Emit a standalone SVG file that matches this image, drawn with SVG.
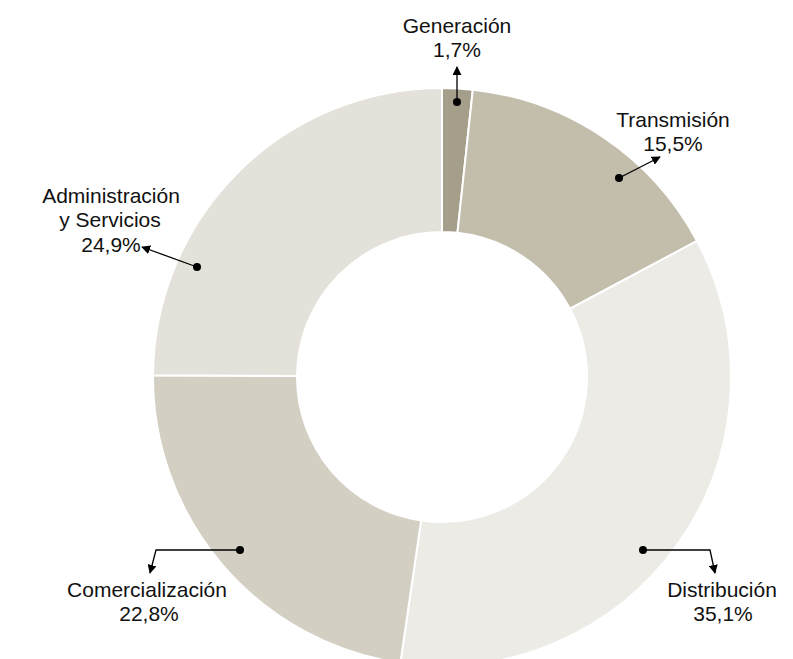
<svg xmlns="http://www.w3.org/2000/svg" width="793" height="659" viewBox="0 0 793 659">
<style>
.seg{stroke:#ffffff;stroke-width:2;stroke-linejoin:miter}
.lbl{font-family:"Liberation Sans",Arial,sans-serif;font-size:21px;fill:#111111;text-anchor:middle}
.lead{fill:none;stroke:#000;stroke-width:1.3}
.dot{fill:#000}
</style>
<defs>
<marker id="arr" viewBox="0 0 10 10" refX="9" refY="5" markerWidth="9" markerHeight="9" markerUnits="userSpaceOnUse" orient="auto">
<path d="M0,0 L10,5 L0,10 z" fill="#000"/>
</marker>
</defs>
<rect width="793" height="659" fill="#ffffff"/>
<g id="donut">
<g id="seg-generacion"><path class="seg" fill="#a59e8a" d="M442,88 A289,289 0 0 1 472.81,89.65 L457.46,232.83 A145,145 0 0 0 442,232 Z"/></g>
<g id="seg-transmision"><path class="seg" fill="#c3bdac" d="M472.81,89.65 A289,289 0 0 1 697,240.98 L569.94,308.76 A145,145 0 0 0 457.46,232.83 Z"/></g>
<g id="seg-distribucion"><path class="seg" fill="#ecebe6" d="M697,240.98 A289,289 0 0 1 400.38,662.99 L421.12,520.49 A145,145 0 0 0 569.94,308.76 Z"/></g>
<g id="seg-comercializacion"><path class="seg" fill="#d3cfc3" d="M400.38,662.99 A289,289 0 0 1 153.01,375.18 L297,376.09 A145,145 0 0 0 421.12,520.49 Z"/></g>
<g id="seg-administracion"><path class="seg" fill="#e4e1da" d="M153.01,375.18 A289,289 0 0 1 442,88 L442,232 A145,145 0 0 0 297,376.09 Z"/></g>
</g>
<g id="connectors">
<path class="lead" d="M457,102 L457,67" marker-end="url(#arr)"/>
<path class="lead" d="M619,178 L660,157" marker-end="url(#arr)"/>
<path class="lead" d="M197,267 L142,247" marker-end="url(#arr)"/>
<path class="lead" d="M240,550 L156,550 L150,573" marker-end="url(#arr)"/>
<path class="lead" d="M643,550 L710,550 L715,573" marker-end="url(#arr)"/>
<circle class="dot" cx="457" cy="102" r="4"/>
<circle class="dot" cx="619" cy="178" r="4"/>
<circle class="dot" cx="197" cy="267" r="4"/>
<circle class="dot" cx="240" cy="550" r="4"/>
<circle class="dot" cx="643" cy="550" r="4"/>
</g>
<g id="label-generacion"><text class="lbl" x="457" y="33">Generación</text><text class="lbl" x="457" y="57">1,7%</text></g>
<g id="label-transmision"><text class="lbl" x="673" y="127">Transmisión</text><text class="lbl" x="673" y="151">15,5%</text></g>
<g id="label-administracion"><text class="lbl" x="111" y="203">Administración</text><text class="lbl" x="110" y="227">y Servicios</text><text class="lbl" x="111" y="252">24,9%</text></g>
<g id="label-comercializacion"><text class="lbl" x="147" y="597">Comercialización</text><text class="lbl" x="149" y="621">22,8%</text></g>
<g id="label-distribucion"><text class="lbl" x="722" y="597">Distribución</text><text class="lbl" x="723" y="621">35,1%</text></g>
</svg>
